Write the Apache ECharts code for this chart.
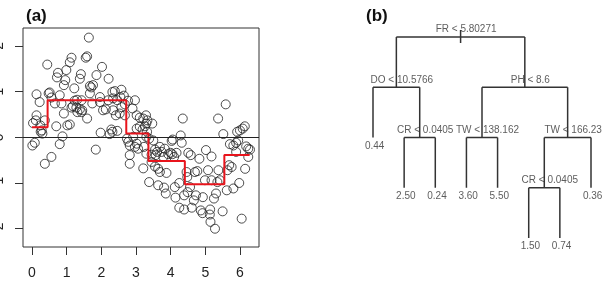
<!DOCTYPE html>
<html>
<head>
<meta charset="utf-8">
<script src="https://cdn.jsdelivr.net/npm/echarts@6.0.0/dist/echarts.min.js"></script>
<style>
html, body { margin: 0; padding: 0; background: #fff; }
#chart { width: 610px; height: 283px; }
</style>
</head>
<body>
<div id="chart"></div>
<script>
// (a) observations
var ptX = [
  0.01, 0.08, 0.03, 0.11, 0.13, 0.13, 0.22, 0.24, 0.28, 0.30,
  0.25, 0.37, 0.37, 0.44, 0.48, 0.51, 0.56, 0.56, 0.66, 0.70,
  0.72, 0.75, 0.80, 0.80, 0.85, 0.88, 0.92, 0.92, 0.96, 0.99,
  1.02, 1.09, 1.09, 1.14, 1.14, 1.18, 1.22, 1.23, 1.28, 1.30,
  1.31, 1.38, 1.38, 1.41, 1.43, 1.43, 1.45, 1.55, 1.59, 1.59,
  1.64, 1.67, 1.67, 1.71, 1.74, 1.76, 1.84, 1.86, 1.96, 1.96,
  1.98, 2.02, 2.05, 2.13, 2.20, 2.21, 2.24, 2.29, 2.32, 2.32,
  2.34, 2.34, 2.39, 2.42, 2.46, 2.46, 2.53, 2.55, 2.58, 2.58,
  2.65, 2.68, 2.68, 2.74, 2.77, 2.78, 2.82, 2.82, 2.82, 2.90,
  2.92, 2.97, 2.97, 3.02, 3.02, 3.02, 3.06, 3.11, 3.11, 3.19,
  3.21, 3.21, 3.26, 3.29, 3.30, 3.30, 3.32, 3.33, 3.38, 3.38,
  3.47, 3.50, 3.23, 3.30, 3.45, 3.45, 3.55, 3.61, 3.57, 3.55,
  3.64, 3.69, 3.69, 3.74, 3.79, 3.83, 3.88, 3.64, 3.81, 3.86,
  3.93, 4.00, 4.05, 4.06, 4.03, 4.10, 4.12, 4.14, 4.17, 4.25,
  4.25, 4.29, 4.32, 4.35, 4.39, 4.39, 4.46, 4.48, 4.49, 4.51,
  4.56, 4.58, 4.61, 4.67, 4.70, 4.73, 4.77, 4.83, 4.87, 4.92,
  4.93, 4.99, 5.02, 5.08, 5.13, 5.14, 5.15, 5.18, 5.18, 5.25,
  5.28, 5.31, 5.35, 5.37, 5.38, 5.42, 5.50, 5.52, 5.59, 5.62,
  5.64, 5.69, 5.71, 5.76, 5.81, 5.81, 5.89, 5.89, 5.92, 5.95,
  5.98, 6.00, 6.05, 6.08, 6.14, 6.15, 6.18, 6.24, 6.24, 6.29
];
var ptY = [
  -0.18, -0.12, 0.31, 0.37, 0.94, 0.48, 0.77, 0.26, 0.15, 0.08,
  0.12, 0.37, -0.58, 1.59, 0.96, 0.98, 0.87, -0.43, 0.74, 0.24,
  1.31, 1.41, 0.92, -0.15, 0.74, 0.02, 1.14, 0.52, 1.25, 1.47,
  0.26, 0.28, 1.64, 1.74, 0.65, 0.68, 1.07, 0.80, 0.65, 0.82,
  0.55, 1.28, 0.61, 1.38, 0.81, 0.55, 0.59, 1.74, 1.77, 0.41,
  2.18, 1.12, 0.96, 1.09, 0.74, 1.14, -0.27, 1.36, 0.88, 0.77,
  0.10, 1.54, 0.59, 0.61, 0.81, 1.28, 0.07, 0.17, 0.99, 0.12,
  0.85, 0.59, 1.01, 0.48, 0.81, 0.14, 0.52, 0.88, 1.04, 0.66,
  0.91, 0.72, 0.48, -0.03, 0.80, -0.10, -0.39, -0.58, -0.18, 0.63,
  0.01, 0.81, -0.21, 0.48, -0.14, 0.19, -0.25, 0.43, 0.23, 0.17,
  0.41, -0.68, 0.24, 0.48, 0.30, 0.01, 0.12, 0.37, -0.98, -0.03,
  0.30, -0.07, -0.21, -0.36, -0.54, -0.38, -0.27, -0.32, -0.39, -0.64,
  -0.69, -0.76, -0.21, -0.32, -0.43, -0.25, -0.78, -1.05, -1.10, -1.23,
  -0.37, -0.34, -0.37, -0.05, -0.08, -0.43, -1.09, -1.32, -0.34, -1.00,
  -1.54, 0.04, -0.12, 0.41, -1.27, -1.58, -0.76, -0.87, -1.20, -0.34,
  -1.09, -0.39, -1.54, -1.38, -0.76, -1.27, -0.74, -0.47, -1.60, -1.66,
  -1.31, -0.94, -0.28, -0.72, -1.69, -1.58, -1.85, -0.42, -0.94, -1.34,
  -2.00, -1.23, -0.98, 0.41, -0.72, -0.94, -1.62, 0.07, 0.72, -1.16,
  -0.72, -0.61, -0.15, -0.65, -0.18, -1.12, -0.12, -0.32, 0.12, -0.07,
  -1.00, 0.15, -1.78, 0.19, 0.24, -0.69, -0.20, -0.25, -0.43, -0.27
];
// fitted step function
var stepBreaks = [0, 0.45, 2.72, 3.36, 4.41, 5.55, 6.28];
var stepLevels = [0.22, 0.81, 0.08, -0.52, -1.03, -0.39];
var xTicks = [0, 1, 2, 3, 4, 5, 6];
var yTicks = [-2, -1, 0, 1, 2];

// (b) regression tree, nodes in preorder (like R's tree frame)
var treeVars = ['FR', 'DO', '<leaf>', 'CR', '<leaf>', '<leaf>', 'PH', 'TW', '<leaf>', '<leaf>', 'TW', 'CR', '<leaf>', '<leaf>', '<leaf>'];
var treeSplits = ['5.80271', '10.5766', '', '0.0405', '', '', '8.6', '138.162', '', '', '166.23', '0.0405', '', '', ''];
var treeYval = [null, null, 0.44, null, 2.50, 0.24, null, null, 3.60, 5.50, null, null, 1.50, 0.74, 0.36];

var pointData = ptX.map(function (x, i) { return [x, ptY[i]]; });
var stepData = stepLevels.map(function (v, i) { return [stepBreaks[i], v]; });
stepData.push([stepBreaks[stepBreaks.length - 1], stepLevels[stepLevels.length - 1]]);

// lay the tree out: leaves evenly spaced, parents centred over children
var leafCount = 0;
var pos = 0;
function build(depth) {
    var i = pos++;
    var node = { id: i, depth: depth };
    if (treeVars[i] === '<leaf>') {
        node.x = leafCount++;
        node.leaf = true;
    } else {
        node.left = build(depth + 1);
        node.right = build(depth + 1);
        node.x = (node.left.x + node.right.x) / 2;
    }
    return node;
}
var root = build(0);

var segs = [[root.x, -0.14, root.x, 0.12]];
var splitLabels = [];
var leafLabels = [];
function walk(n) {
    if (n.leaf) {
        leafLabels.push([n.x, n.depth, treeYval[n.id].toFixed(2)]);
        return;
    }
    splitLabels.push([n.x, n.depth, treeVars[n.id] + ' < ' + treeSplits[n.id]]);
    segs.push([n.left.x, n.depth, n.right.x, n.depth]);
    [n.left, n.right].forEach(function (c) {
        segs.push([c.x, n.depth, c.x, c.depth]);
        walk(c);
    });
}
walk(root);

var myChart = echarts.init(document.getElementById('chart'), null, { renderer: 'canvas' });
var font = 'Liberation Sans, Arial, sans-serif';

var option = {
    animation: false,
    backgroundColor: '#fff',
    title: [
        { text: '(a)', left: 21, top: 3, textStyle: { fontFamily: font, fontSize: 17, fontWeight: 'bold', color: '#111' } },
        { text: '(b)', left: 361, top: 3, textStyle: { fontFamily: font, fontSize: 17, fontWeight: 'bold', color: '#111' } }
    ],
    grid: [
        { left: 23, right: 351, top: 28, bottom: 36, show: true, borderColor: '#333', borderWidth: 1, backgroundColor: 'transparent', outerBoundsMode: 'none' },
        { left: 373, right: 19, top: 37, bottom: 45, show: false, outerBoundsMode: 'none' }
    ],
    xAxis: [
        {
            type: 'value', gridIndex: 0, min: -0.26, max: 6.55,
            axisLine: { show: false, onZero: false },
            axisTick: { show: true, length: 8, customValues: xTicks, lineStyle: { color: '#333' } },
            axisLabel: { customValues: xTicks, margin: 19, fontSize: 14, fontFamily: font, color: '#222' },
            splitLine: { show: false }
        },
        { type: 'value', gridIndex: 1, min: 0, max: 7, show: false }
    ],
    yAxis: [
        {
            type: 'value', gridIndex: 0, min: -2.4, max: 2.39,
            axisLine: { show: false, onZero: false },
            axisTick: { show: true, length: 8, customValues: yTicks, lineStyle: { color: '#333' } },
            axisLabel: { customValues: yTicks, rotate: 90, margin: 17, fontSize: 14, fontFamily: font, color: '#222' },
            splitLine: { show: false }
        },
        { type: 'value', gridIndex: 1, min: 0, max: 4, inverse: true, show: false }
    ],
    series: [
        {
            type: 'scatter', xAxisIndex: 0, yAxisIndex: 0,
            data: pointData,
            symbol: 'circle', symbolSize: 9,
            itemStyle: { color: 'rgba(0,0,0,0)', borderColor: '#222', borderWidth: 1 },
            markLine: {
                silent: true, symbol: 'none', label: { show: false },
                lineStyle: { color: '#222', width: 1, type: 'solid' },
                data: [{ yAxis: 0 }]
            },
            silent: true
        },
        {
            type: 'line', xAxisIndex: 0, yAxisIndex: 0,
            data: stepData, step: 'end', showSymbol: false,
            lineStyle: { color: '#e8141c', width: 2 },
            silent: true
        },
        {
            type: 'custom', xAxisIndex: 1, yAxisIndex: 1,
            data: segs,
            encode: { x: [0, 2], y: [1, 3] },
            renderItem: function (params, api) {
                var p1 = api.coord([api.value(0), api.value(1)]);
                var p2 = api.coord([api.value(2), api.value(3)]);
                return {
                    type: 'line',
                    shape: { x1: p1[0], y1: p1[1], x2: p2[0], y2: p2[1] },
                    style: { stroke: '#333', lineWidth: 1.5 }
                };
            },
            silent: true
        },
        {
            type: 'scatter', xAxisIndex: 1, yAxisIndex: 1,
            data: splitLabels, symbolSize: 1,
            itemStyle: { color: 'rgba(0,0,0,0)' },
            label: {
                show: true, position: 'top', distance: 2, offset: [5.5, 0],
                formatter: function (p) { return p.data[2]; },
                fontSize: 10, fontFamily: font, color: '#333'
            },
            silent: true
        },
        {
            type: 'scatter', xAxisIndex: 1, yAxisIndex: 1,
            data: leafLabels, symbolSize: 1,
            itemStyle: { color: 'rgba(0,0,0,0)' },
            label: {
                show: true, position: 'bottom', distance: 3, offset: [1.7, 0],
                formatter: function (p) { return p.data[2]; },
                fontSize: 10, fontFamily: font, color: '#333'
            },
            silent: true
        }
    ]
};

myChart.setOption(option);
</script>
</body>
</html>
